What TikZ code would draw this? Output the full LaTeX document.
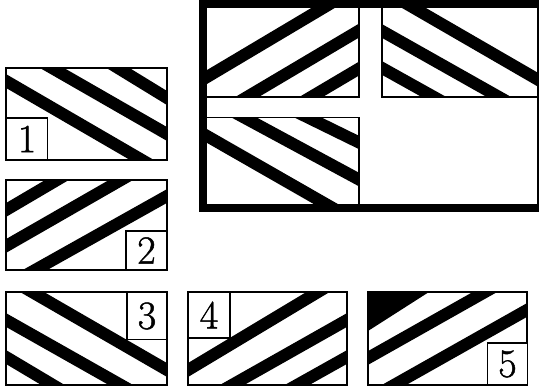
\documentclass[tikz,border=0pt]{standalone}
\usepackage{fontspec}
\newfontfamily\digitfont{Latin Modern Roman}[FakeBold=1.2]
\usetikzlibrary{calc}
\newcommand\band[2]{\draw[bandline] ($(#1)!-1!(#2)$) -- ($(#1)!2!(#2)$);}
\begin{document}
\begin{tikzpicture}[x=1pt,y=-1pt,
  bandline/.style={line width=12pt,line cap=butt,black},
  panel/.style={line width=1.6pt,black},
  quad/.style={line width=1.4pt,black},
  labelbox/.style={draw=black,line width=1.4pt,fill=white,inner sep=0pt,font=\digitfont\fontsize{40}{40}\selectfont},
  frame/.style={line width=8pt,black}]
\useasboundingbox (0,0) rectangle (539,388);
\fill[white] (0,0) rectangle (539,388);

% ---------- big flag ----------
\begin{scope}
\clip (203,4) rectangle (359,97);
\band{207,77}{323,8}
\band{247,97}{360,30}
\band{311,97}{360,68}
\end{scope}
\begin{scope}
\clip (382,4) rectangle (540,97);
\band{414,8}{535,78}
\band{382,31}{499,97}
\band{382,68}{434,97}
\end{scope}
\begin{scope}
\clip (203,117.5) rectangle (359,208);
\band{207,136}{324,203}
\band{245,118}{358,179}
\band{309,118}{358,142}
\end{scope}
\draw[quad] (203,97) -- (359,97) -- (359,4);
\draw[quad] (203,117.5) -- (359,117.5) -- (359,208);
\draw[quad] (382,4) -- (382,97) -- (540,97);
\draw[frame] (203,4) rectangle (541,208);

% ---------- panel 1 ----------
\begin{scope}
\clip (6,68) rectangle (167,160);
\band{6,81}{142,160}
\band{52,68}{167,134}
\band{118,68}{167,98}
\end{scope}
\draw[panel] (6,68) rectangle (167,160);
\node[labelbox,minimum width=41pt,minimum height=42pt] (l1) at (27,139) {1};

% ---------- panel 2 ----------
\begin{scope}
\clip (6,180) rectangle (167,270);
\band{6,210}{57,180}
\band{6,246}{121,180}
\band{35,270}{167,196}
\end{scope}
\draw[panel] (6,180) rectangle (167,270);
\node[labelbox,minimum width=41pt,minimum height=39pt] (l2) at (146.5,250.5) {2};

% ---------- panel 3 ----------
\begin{scope}
\clip (6,292) rectangle (167,385);
\band{32,292}{167,370}
\band{6,320}{121,385}
\band{6,357}{53,385}
\end{scope}
\draw[panel] (6,292) rectangle (167,385);
\node[labelbox,minimum width=40pt,minimum height=47pt] (l3) at (147,316) {3};

% ---------- panel 4 ----------
\begin{scope}
\clip (188,292) rectangle (347,385);
\band{188,370}{318,292}
\band{232,385}{347,320}
\band{297,385}{347,357}
\end{scope}
\draw[panel] (188,292) rectangle (347,385);
\node[labelbox,minimum width=42pt,minimum height=46pt] (l4) at (209,315) {4};

% ---------- panel 5 ----------
\begin{scope}
\clip (368,292) rectangle (527,385);
\fill[black] (368,292) -- (429,292) -- (368,331) -- cycle;
\band{368,358}{485,292}
\band{394,385}{527,310}
\end{scope}
\draw[panel] (368,292) rectangle (527,385);
\node[labelbox,minimum width=40pt,minimum height=42pt] (l5) at (507.5,364) {5};
\end{tikzpicture}
\end{document}
